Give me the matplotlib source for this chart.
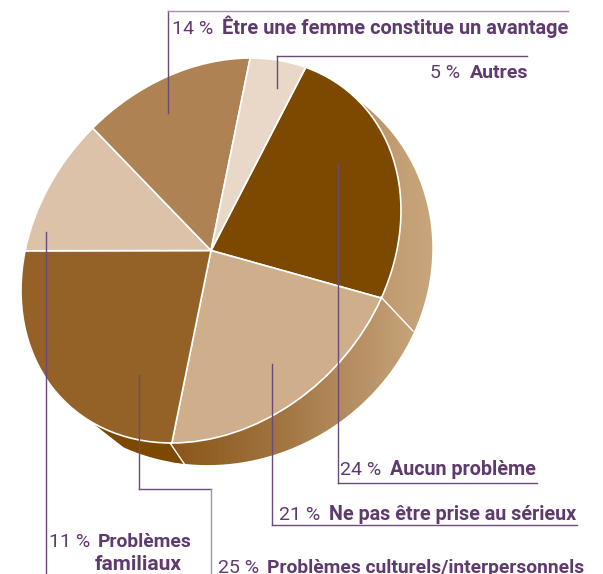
import numpy as np
import matplotlib
matplotlib.use('Agg')
import matplotlib.pyplot as plt
from matplotlib.patches import Wedge, PathPatch
from matplotlib.path import Path
from matplotlib.transforms import Affine2D
from matplotlib.colors import LinearSegmentedColormap

W, H = 603, 574
categories = ['Aucun problème', 'Ne pas être prise au sérieux', 'Problèmes culturels/interpersonnels',
              'Problèmes familiaux', 'Être une femme constitue un avantage', 'Autres']
values = [24, 21, 25, 11, 14, 5]
colors = ['#7d4800', '#cfae8b', '#946126', '#dcc2a8', '#ae8252', '#e9d8c7']

INK = '#5f3a6e'
plt.rcParams['font.family'] = ['Roboto', 'DejaVu Sans']

fig = plt.figure(figsize=(W/100, H/100), dpi=100)
ax = fig.add_axes([0, 0, 1, 1])
ax.set_xlim(0, W)
ax.set_ylim(0, H)
ax.axis('off')

def Y(py):
    return H - py

# Tilted ellipse as a sheared unit circle
cx, cy = 211, Y(250.5)
tilt = Affine2D(np.array([[190, 0, cx], [40, 188.3, cy], [0, 0, 1.0]]))

# Rim: ellipse fitted to the outline
pts = np.array([(358,100),(407,157),(427,200),(433,250),(413,331),(337,425),(260,458),(220,465),(185,464),(123,447)], float)
x = pts[:,0]-240; y = pts[:,1]-270
A = np.c_[x*x, x*y, y*y, x, y]
a,b,c,d,e = np.linalg.lstsq(A, np.ones(len(x)), rcond=None)[0]
cen = np.linalg.solve([[2*a,b],[b,2*c]],[-d,-e])
k = 1 - (a*cen[0]**2+b*cen[0]*cen[1]+c*cen[1]**2+d*cen[0]+e*cen[1])
Sm = np.linalg.inv(np.array([[a,b/2],[b/2,c]])/k)
Lm = np.linalg.cholesky(Sm)
centre = cen+[240,270]

t = np.linspace(0, 2*np.pi, 720)
rp = (Lm @ np.c_[np.cos(t), np.sin(t)].T).T + centre
def keep(p0, p1, pp, sign):
    s = (p1[0]-p0[0])*(pp[:,1]-p0[1])-(p1[1]-p0[1])*(pp[:,0]-p0[0])
    return pp[sign*s >= 0]
rp = keep((95,425),(123,447), rp, -1)
rp = keep((95,425),(358,100), rp, 1)
rp = np.vstack([rp, [(95,425)]])
mid = np.array([300.,300.])
rp = rp[np.argsort(np.arctan2(rp[:,1]-mid[1], rp[:,0]-mid[0]))]
clip = PathPatch(Path(np.c_[rp[:,0], H-rp[:,1]]), transform=ax.transData, fc='none', ec='none')
ax.add_patch(clip)

cmap = LinearSegmentedColormap.from_list('rim', [(0,'#8a5518'),(0.4,'#a0733f'),(0.7,'#b68f63'),(0.9,'#c5a177'),(1,'#c9a57e')])
grad = np.linspace(0, 1, 400).reshape(1, -1)
im = ax.imshow(grad, cmap=cmap, extent=[170, 435, Y(470), Y(90)], aspect='auto', zorder=1)
im.set_clip_path(clip)
ax.set_xlim(0, W); ax.set_ylim(0, H)

# Dark section of the rim, left of the slit
left = keep((170,443),(185,465), rp, 1)
left = np.vstack([left, [(170,443)]])
ax.add_patch(PathPatch(Path(np.c_[left[:,0], H-left[:,1]]), fc='#7d4800', ec='none', zorder=1.5))

angle = 60.1
for v, col in zip(values, colors):
    sweep = v * 3.6
    ax.add_patch(Wedge((0, 0), 1, angle - sweep, angle, fc=col, ec='white', lw=1.2,
                       transform=tilt + ax.transData, zorder=2))
    angle -= sweep

for (x0, y0, x1, y1) in [(381, 297, 413, 331), (170, 443, 185, 465)]:
    ax.plot([x0, x1], [Y(y0), Y(y1)], color='white', lw=1.0, zorder=3)

DARK, LIGHT = '#6a4a7a', '#a68fb0'
segments = [
    (168, 113, 168, 11, DARK), (168, 11, 568, 11, LIGHT),
    (277, 88, 277, 56, DARK), (277, 56, 527, 56, DARK),
    (338, 165, 338, 483, DARK), (338, 483, 537, 483, DARK),
    (272, 364, 272, 525, DARK), (272, 525, 577, 525, DARK),
    (139, 375, 139, 489, DARK), (139, 489, 211, 489, DARK), (211, 489, 211, 574, LIGHT),
    (46, 232, 46, 574, DARK),
]
for x0, y0, x1, y1, col in segments:
    ax.plot([x0, x1], [Y(y0), Y(y1)], color=col, lw=1.0, zorder=4, solid_capstyle='projecting')

def label(x, bx, y, pct, name, fs):
    ax.text(x, Y(y), f'{pct} %', color=INK, fontsize=14, fontweight='normal', va='baseline', ha='left', zorder=5)
    ax.text(bx, Y(y), name, color=INK, fontsize=fs, fontweight='bold', va='baseline', ha='left', zorder=5)

label(172, 221.5, 34, values[4], categories[4], 14.4)
label(430, 470, 78, values[5], categories[5], 14.0)
label(340, 390, 475, values[0], categories[0], 14.2)
label(279, 329, 520, values[1], categories[1], 14.2)
label(49, 98, 547, values[3], 'Problèmes', 13.9)
ax.text(95, Y(570), 'familiaux', color=INK, fontsize=15, fontweight='bold', va='baseline', ha='left', zorder=5)
label(218, 267, 573, values[2], categories[2], 13.9)

fig.savefig('out.png', dpi=100, facecolor='white')
